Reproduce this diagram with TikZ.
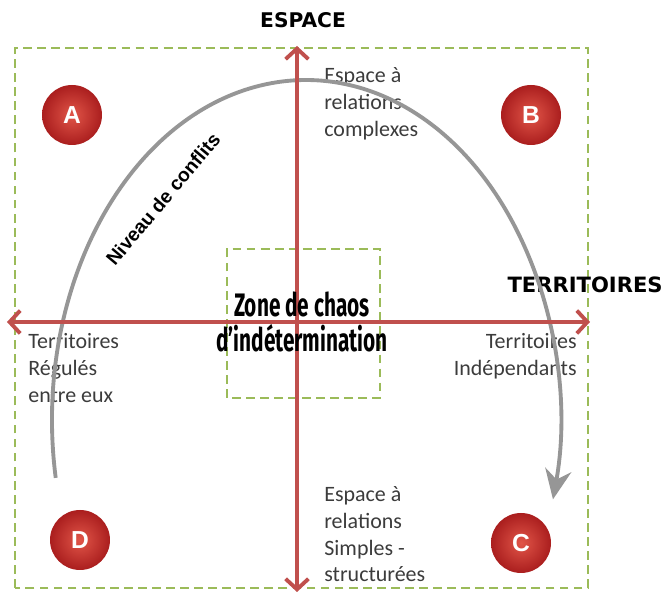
\documentclass[tikz,border=0pt]{standalone}
\usepackage{fontspec}
\setmainfont{Carlito}
\newfontfamily\headfont{DejaVu Sans}
\newfontfamily\chaosfont[FakeStretch=0.64]{Fira Sans}
\newfontfamily\arcfont{Liberation Sans}
\usetikzlibrary{arrows.meta}
\definecolor{axisred}{RGB}{192,80,77}
\definecolor{zonegreen}{RGB}{155,187,89}
\definecolor{arcgray}{RGB}{150,150,150}
\definecolor{labelgray}{RGB}{60,60,60}
\definecolor{ballin}{RGB}{225,85,72}
\definecolor{ballout}{RGB}{170,30,30}

\begin{document}
\begin{tikzpicture}[x=0.02cm,y=0.02cm,
    zone/.style={draw=zonegreen,line width=1.2pt,dash pattern=on 5pt off 3pt},
    axis/.style={draw=axisred,line width=2.2pt,
      {Straight Barb[length=6pt,width=13pt]}-{Straight Barb[length=6pt,width=13pt]}},
    ball/.style={circle,minimum size=1.2cm,inner sep=0pt,inner color=ballin,outer color=ballout,
      text=white,font=\arcfont\bfseries\fontsize{14}{14}\selectfont},
    lbl/.style={inner sep=0pt,text=labelgray,font=\fontsize{12.5}{15.3}\selectfont},
    head/.style={inner sep=0pt,font=\headfont\bfseries\fontsize{11.5}{12}\selectfont}]
  \useasboundingbox (0,0) rectangle (666,597);
  % dashed zones
  \draw[zone] (15,9) rectangle (588,549);
  \draw[zone] (227,199) rectangle (380,348);
  % the four corners
  \foreach \name/\x/\y in {A/72/482,B/531/482,C/521/54,D/80/57}
    \node[ball] (ball\name) at (\x,\y) {\name};
  % axis titles
  \node[head] (espace) at (303,577) {ESPACE};
  \node[head,font=\headfont\bfseries\fontsize{12}{12}\selectfont,anchor=east] (territoires) at (663,312) {TERRITOIRES};
  % side labels
  \node[lbl,align=left,anchor=north west] (complexes) at (324,530) {Espace à\\relations\\complexes};
  \node[lbl,align=left,anchor=north west] (simples) at (324,111) {Espace à\\relations\\Simples -\\structurées};
  \node[lbl,align=left,anchor=north west] (regules) at (28,264) {Territoires\\Régulés\\entre eux};
  \node[lbl,align=right,anchor=north east] (independants) at (577,264) {Territoires\\Indépendants};
  % conflict arc
  \coordinate (arcstart) at ({306+254*cos(189.8)},{177+340*sin(189.8)});
  \draw[arcgray,line width=2.2pt,-{Stealth[length=17pt,width=15pt]}]
    (arcstart) arc[start angle=189.8,end angle=-13.5,x radius=254,y radius=340];
  \node[inner sep=0pt,rotate=50,font=\arcfont\bfseries\fontsize{11}{11}\selectfont] (niveau) at (163,398) {Niveau de conflits};
  % axes
  \coordinate (bottom) at (297,5);
  \coordinate (top) at (297,551);
  \coordinate (left) at (7,275);
  \coordinate (right) at (590,275);
  \draw[axis] (bottom) -- (top);
  \draw[axis] (left) -- (right);
  % centre
  \node[align=center,inner sep=0pt,font=\chaosfont\bfseries\fontsize{18.5}{19.5}\selectfont] (chaos) at (302,275) {Zone de chaos\\d’indétermination};
\end{tikzpicture}
\end{document}
